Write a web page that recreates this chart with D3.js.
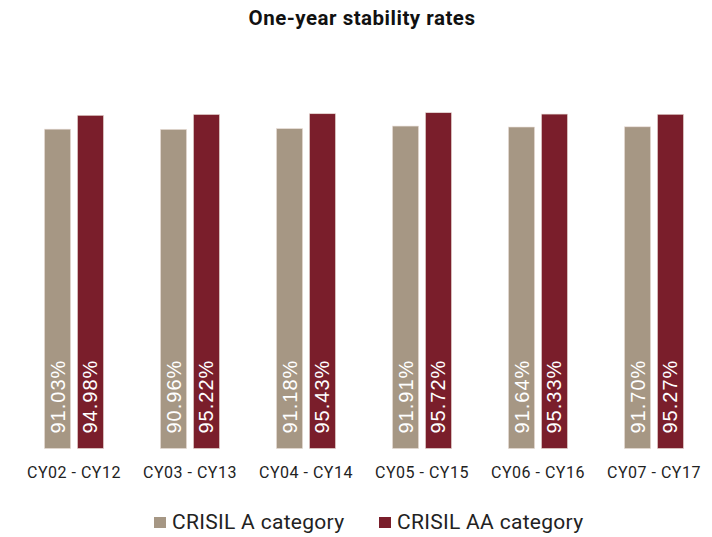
<!DOCTYPE html>
<html>
<head>
<meta charset="utf-8">
<script src="https://cdn.jsdelivr.net/npm/d3@7"></script>
<style>
  body { margin: 0; background: #fff; }
  text { font-family: Roboto, "Liberation Sans", sans-serif; }
</style>
</head>
<body>
<div id="chart"></div>
<script>
// data
var periods = ["CY02 - CY12", "CY03 - CY13", "CY04 - CY14", "CY05 - CY15", "CY06 - CY16", "CY07 - CY17"];
var seriesNames = ["CRISIL A category", "CRISIL AA category"];
var crisilA = [91.03, 90.96, 91.18, 91.91, 91.64, 91.70];
var crisilAA = [94.98, 95.22, 95.43, 95.72, 95.33, 95.27];
var colors = ["#a69784", "#7a1e2b"];

var width = 712, height = 537;

var svg = d3.select("#chart").append("svg")
  .attr("width", width)
  .attr("height", height);

// title
svg.append("text")
  .attr("x", 362)
  .attr("y", 25)
  .attr("text-anchor", "middle")
  .style("font-size", "20.5px")
  .style("font-weight", "bold")
  .style("letter-spacing", "0.5px")
  .style("fill", "#111")
  .text("One-year stability rates");

var x = d3.scaleBand()
  .domain(periods)
  .range([16, 712]);

var inner = d3.scaleBand()
  .domain([0, 1])
  .range([x.bandwidth() / 2 - 29.5, x.bandwidth() / 2 + 29.5])
  .paddingInner(0.21);

var y = d3.scaleLinear()
  .domain([0, 100])
  .range([448.5, 97.7]);

var rows = periods.map(function(p, i) {
  return {period: p, values: [crisilA[i], crisilAA[i]]};
});

var group = svg.selectAll("g.group")
  .data(rows)
  .enter().append("g")
  .attr("class", "group")
  .attr("transform", function(d) { return "translate(" + x(d.period) + ",0)"; });

group.selectAll("rect")
  .data(function(d) { return d.values; })
  .enter().append("rect")
  .attr("x", function(d, i) { return inner(i); })
  .attr("y", function(d) { return y(d); })
  .attr("width", inner.bandwidth())
  .attr("height", function(d) { return y(0) - y(d); })
  .style("fill", function(d, i) { return colors[i]; })
  .style("stroke", "#e8dcd6")
  .style("stroke-width", 0.6);

// value labels inside the bars, rotated
group.selectAll("text.value")
  .data(function(d) { return d.values; })
  .enter().append("text")
  .attr("class", "value")
  .attr("transform", function(d, i) {
    return "translate(" + (inner(i) + inner.bandwidth() / 2 + 7) + "," + (y(0) - 15) + ") rotate(-90)";
  })
  .style("font-family", "'Liberation Sans', Arial, sans-serif")
  .style("font-size", "20px")
  .style("letter-spacing", "1px")
  .style("fill", "#fff")
  .text(function(d) { return d.toFixed(2) + "%"; });

// x axis labels
var xAxis = svg.append("g")
  .attr("transform", "translate(0," + 463 + ")")
  .call(d3.axisBottom(x).tickSize(0).tickPadding(0));
xAxis.select(".domain").remove();
xAxis.selectAll("text")
  .attr("dy", "0.95em")
  .style("font-family", "Roboto, 'Liberation Sans', sans-serif")
  .style("font-size", "16px")
  .style("letter-spacing", "0.5px")
  .style("fill", "#222");

// legend
var legendX = [154, 379];
var legend = svg.selectAll("g.legend")
  .data(seriesNames)
  .enter().append("g")
  .attr("class", "legend")
  .attr("transform", function(d, i) { return "translate(" + legendX[i] + ",517)"; });

legend.append("rect")
  .attr("width", 12)
  .attr("height", 11)
  .style("fill", function(d, i) { return colors[i]; });

legend.append("text")
  .attr("x", 18)
  .attr("y", 12)
  .style("font-size", "21px")
  .style("letter-spacing", "0.3px")
  .style("fill", "#222")
  .text(function(d) { return d; });
</script>
</body>
</html>
